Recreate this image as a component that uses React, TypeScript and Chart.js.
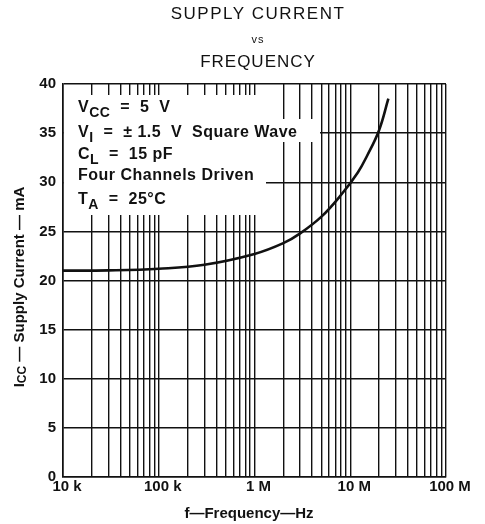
import React, { useEffect, useRef } from "react";
import { Chart, registerables } from "chart.js";

Chart.register(...registerables);

// ---- data ----
const curveFreqHz = [1e4, 3e4, 1e5, 3e5, 1e6, 2e6, 3e6, 5e6, 8e6, 1.2e7, 1.5e7, 2e7, 2.5e7];
const curveCurrentMA = [21.0, 21.03, 21.2, 21.6, 22.7, 23.8, 24.8, 26.5, 28.7, 31.0, 32.7, 35.3, 38.5];

const xMajorTicks = [1e4, 1e5, 1e6, 1e7, 1e8];
const xMajorLabels = ["10 k", "100 k", "1 M", "10 M", "100 M"];
const xMinorMultipliers = [2, 3, 4, 5, 6, 7, 8, 9];

const yMin = 0;
const yMax = 40;
const yStep = 5;

const titleLines = ["SUPPLY CURRENT", "vs", "FREQUENCY"];
const xTitle = "f—Frequency—Hz";
// rich text: [text, isSubscript]
const yTitle: [string, boolean][] = [["I", false], ["CC", true], [" — Supply Current — mA", false]];
const conditionLines: [string, boolean][][] = [
  [["V", false], ["CC", true], ["  =  5  V", false]],
  [["V", false], ["I", true], ["  =  ± 1.5  V  Square Wave", false]],
  [["C", false], ["L", true], ["  =  15 pF", false]],
  [["Four Channels Driven", false]],
  [["T", false], ["A", true], ["  =  25°C", false]],
];

const FONT = '"Liberation Sans", Arial, Helvetica, sans-serif';
const INK = "#111111";

function richWidth(ctx: CanvasRenderingContext2D, parts: [string, boolean][], size: number, subSize: number, weight: string) {
  let w = 0;
  for (const [t, sub] of parts) {
    ctx.font = `${weight} ${sub ? subSize : size}px ${FONT}`;
    w += ctx.measureText(t).width;
  }
  return w;
}

function drawRich(ctx: CanvasRenderingContext2D, parts: [string, boolean][], x: number, y: number, size: number, subSize: number, weight: string, subDrop: number) {
  let cx = x;
  for (const [t, sub] of parts) {
    ctx.font = `${weight} ${sub ? subSize : size}px ${FONT}`;
    ctx.fillText(t, cx, sub ? y + subDrop : y);
    cx += ctx.measureText(t).width;
  }
}

const decorPlugin = {
  id: "decor",
  beforeDatasetsDraw(chart: any) {
    const ctx: CanvasRenderingContext2D = chart.ctx;
    const area = chart.chartArea;
    ctx.save();
    ctx.fillStyle = "#ffffff";
    // white backing behind condition text
    ctx.fillRect(area.left + 1, 95, 202, 120);
    ctx.fillRect(area.left + 1, 119, 256, 23);
    ctx.restore();
  },
  afterDraw(chart: any) {
    const ctx: any = chart.ctx;
    ctx.save();
    ctx.fillStyle = INK;
    ctx.textBaseline = "alphabetic";

    // title
    ctx.textAlign = "center";
    const cx = 258;
    ctx.letterSpacing = "1.5px";
    ctx.font = `normal 17px ${FONT}`;
    ctx.fillText(titleLines[0], cx, 19);
    ctx.letterSpacing = "1px";
    ctx.font = `normal 11px ${FONT}`;
    ctx.fillText(titleLines[1], cx, 43);
    ctx.font = `normal 17px ${FONT}`;
    ctx.fillText(titleLines[2], cx, 67);
    ctx.letterSpacing = "0px";

    // x title
    ctx.font = `bold 15px ${FONT}`;
    ctx.fillText(xTitle, 249, 518);

    // y title (rotated)
    ctx.textAlign = "left";
    const yw = richWidth(ctx, yTitle, 15, 12, "bold");
    ctx.save();
    ctx.translate(24, 287);
    ctx.rotate(-Math.PI / 2);
    drawRich(ctx, yTitle, -yw / 2, 0, 15, 12, "bold", 2);
    ctx.restore();

    // condition block
    ctx.wordSpacing = "3px";
    ctx.letterSpacing = "0.5px";
    const baselines = [112, 137, 159, 180, 204];
    conditionLines.forEach((parts, i) => {
      drawRich(ctx, parts, 78, baselines[i], 16, 14, "bold", 5);
    });
    ctx.wordSpacing = "0px";
    ctx.letterSpacing = "0px";
    ctx.restore();
  },
};

export default function App() {
  const ref = useRef<HTMLCanvasElement | null>(null);

  useEffect(() => {
    if (!ref.current) return;
    const xTickValues: number[] = [];
    for (let i = 0; i < xMajorTicks.length; i++) {
      xTickValues.push(xMajorTicks[i]);
      if (i < xMajorTicks.length - 1) {
        for (const m of xMinorMultipliers) xTickValues.push(xMajorTicks[i] * m);
      }
    }
    const points = curveFreqHz.map((f, i) => ({ x: f, y: curveCurrentMA[i] }));

    const chart = new Chart(ref.current, {
      type: "line",
      data: {
        datasets: [
          {
            data: points,
            borderColor: INK,
            borderWidth: 2.6,
            pointRadius: 0,
            fill: false,
            tension: 0.4,
          },
        ],
      },
      options: {
        responsive: false,
        animation: false,
        events: [],
        layout: { padding: { top: 84, right: 39, bottom: 0, left: 0 } },
        plugins: { legend: { display: false }, title: { display: false }, tooltip: { enabled: false } },
        scales: {
          x: {
            type: "logarithmic",
            min: xMajorTicks[0],
            max: xMajorTicks[xMajorTicks.length - 1],
            afterBuildTicks: (scale: any) => {
              scale.ticks = xTickValues.map((v) => ({ value: v, major: xMajorTicks.includes(v) }));
            },
            afterFit: (scale: any) => {
              scale.height = 47;
            },
            ticks: {
              autoSkip: false,
              maxRotation: 0,
              padding: 1,
              labelOffset: 4,
              color: INK,
              font: { family: FONT, size: 15, weight: "bold" },
              callback: (value: any) => {
                const idx = xMajorTicks.indexOf(Number(value));
                return idx >= 0 ? xMajorLabels[idx] : "";
              },
            },
            grid: { color: INK, lineWidth: 1.4, drawTicks: false },
            border: { display: true, color: INK, width: 1.6 },
          },
          y: {
            type: "linear",
            min: yMin,
            max: yMax,
            afterFit: (scale: any) => {
              scale.width = 63;
            },
            ticks: {
              stepSize: yStep,
              padding: 7,
              color: INK,
              font: { family: FONT, size: 15, weight: "bold" },
            },
            grid: { color: INK, lineWidth: 1.4, drawTicks: false },
            border: { display: true, color: INK, width: 1.6 },
          },
        },
      },
      plugins: [decorPlugin],
    } as any);
    return () => chart.destroy();
  }, []);

  return (
    <div style={{ position: "fixed", left: 0, top: 0, width: 485, height: 524, background: "#fff" }}>
      <canvas ref={ref} width={485} height={524} style={{ display: "block" }} />
    </div>
  );
}
